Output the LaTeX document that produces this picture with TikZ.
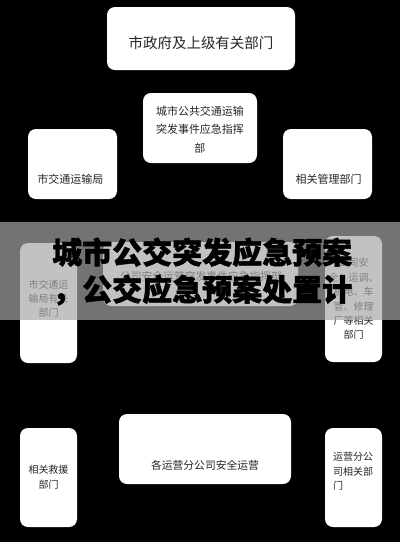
\documentclass[tikz,border=0pt]{standalone}
\usepackage{fontspec}
\setmainfont{Noto Sans CJK SC}
\newfontfamily\bigfont[BoldFeatures={FakeBold=1.5}]{Noto Sans CJK SC}
\begin{document}
\begin{tikzpicture}[x=1pt, y=-1pt,
    box/.style={fill=white, rounded corners=8pt, inner sep=0pt},
    txt/.style={text=black!85, align=center, inner sep=0pt}]
    \fill[black] (0,0) rectangle (400,542);
    \useasboundingbox (0,0) rectangle (400,542);

    % top row
    \node[box, minimum width=188pt, minimum height=63pt] (gov) at (201,38.5) {};
    \node[txt, font=\fontsize{14.5}{17}\selectfont] (govtext) at (201,43) {市政府及上级有关部门};

    \node[box, minimum width=114pt, minimum height=70pt] (hq) at (200,128) {};
    \node[txt, font=\fontsize{11}{18.5}\selectfont] (hqtext) at (200,129.5) {城市公共交通运输\\突发事件应急指挥\\部};

    \node[box, minimum width=89pt, minimum height=70pt] (bureau) at (72.5,164) {};
    \node[txt, font=\fontsize{11}{13}\selectfont] (bureautext) at (70.5,179) {市交通运输局};

    \node[box, minimum width=89pt, minimum height=70pt] (mgmt) at (327.5,164) {};
    \node[txt, font=\fontsize{11}{13}\selectfont] (mgmttext) at (328.5,179) {相关管理部门};

    % middle row
    \node[box, minimum width=57pt, minimum height=120pt] (midL) at (48.5,303) {};
    \node[txt, font=\fontsize{10}{14}\selectfont] (midLtext) at (48.5,299) {市交通运\\输局有关\\部门};

    \node[box, minimum width=195pt, minimum height=64pt] (midC) at (200.5,274) {};
    \node[txt, font=\fontsize{10.8}{13}\selectfont] (midCtext) at (201,276) {公司安全运营突发事件应急指挥部};

    \node[box, minimum width=57pt, minimum height=126pt] (midR) at (353.5,299) {};
    \node[txt, font=\fontsize{10}{14.4}\selectfont] (midRtext) at (353.5,299) {公司安\\全、运调、\\机电、车\\管、修理\\厂等相关\\部门};

    % bottom row
    \node[box, minimum width=57pt, minimum height=99pt] (botL) at (48.5,477.5) {};
    \node[txt, font=\fontsize{10}{15}\selectfont] (botLtext) at (48.5,477.5) {相关救援\\部门};

    \node[box, minimum width=172pt, minimum height=70pt] (botC) at (205,449) {};
    \node[txt, font=\fontsize{10.8}{13}\selectfont] (botCtext) at (205,465) {各运营分公司安全运营};

    \node[box, minimum width=57pt, minimum height=99pt] (botR) at (353.5,477.5) {};
    \node[txt, align=left, anchor=west, font=\fontsize{10}{14.5}\selectfont] (botRtext) at (333,471.5) {运营分公\\司相关部\\门};

    % banner
    \fill[gray!68, opacity=0.69] (0,222) rectangle (400,320);
    \node[anchor=west, align=left, inner sep=0pt, font=\bigfont\bfseries\fontsize{30}{37}\selectfont] (title) at (52,271.5) {城市公交突发应急预案\\，公交应急预案处置计};
\end{tikzpicture}
\end{document}
